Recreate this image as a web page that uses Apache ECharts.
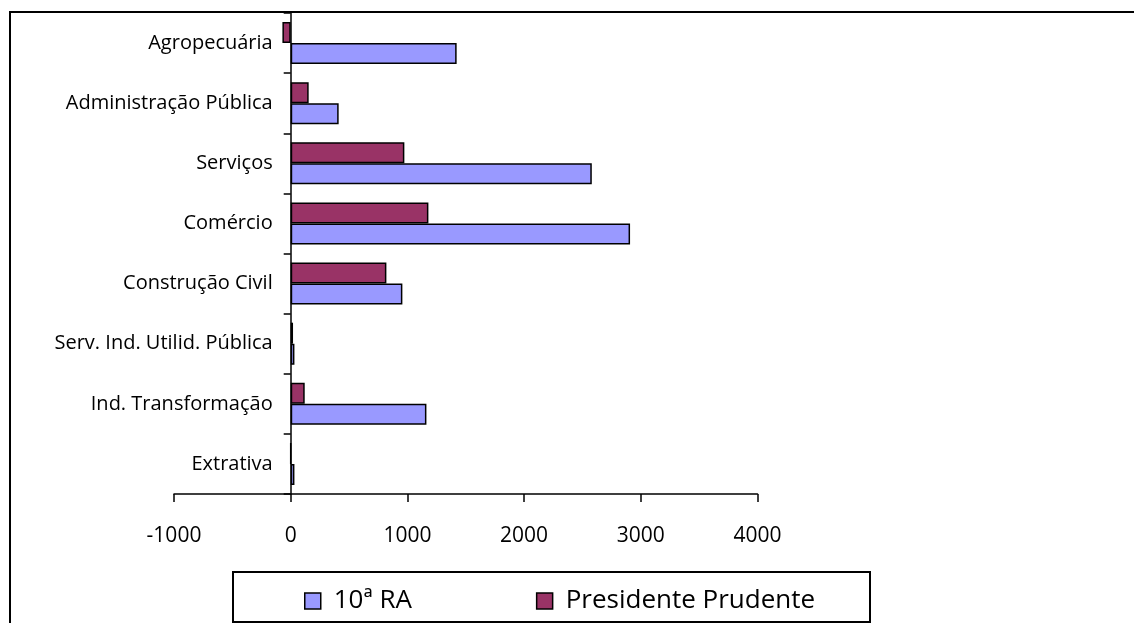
<!DOCTYPE html>
<html>
<head>
<meta charset="utf-8">
<script src="https://cdn.jsdelivr.net/npm/echarts@6/dist/echarts.min.js"></script>
<style>
  html, body { margin: 0; padding: 0; background: #fff; }
  #chart { width: 1134px; height: 623px; }
</style>
</head>
<body>
<div id="chart"></div>
<script>
// Employment balance by sector, listed bottom to top
const categories = [
  'Extrativa',
  'Ind. Transformação',
  'Serv. Ind. Utilid. Pública',
  'Construção Civil',
  'Comércio',
  'Serviços',
  'Administração Pública',
  'Agropecuária'
];
const seriesNames = ['10ª RA', 'Presidente Prudente'];
const valuesRA = [32, 1163, 32, 957, 2908, 2580, 411, 1422];
const valuesPP = [0, 120, 20, 820, 1180, 974, 154, -71];
const tickMin = -1000;
const tickMax = 4000;
const tickStep = 1000;

const FONT = '"Open Sans", "DejaVu Sans", sans-serif';
const W = 1134;
const gridLeft = 174;
const gridRight = 376.5;
// shift the category axis (line, ticks and labels) onto the value 0
const plotWidth = W - gridLeft - gridRight;
const zeroOffset = -plotWidth * (0 - tickMin) / (tickMax - tickMin);

const chart = echarts.init(document.getElementById('chart'), null, { renderer: 'canvas' });

chart.setOption({
  animation: false,
  backgroundColor: '#ffffff',
  textStyle: { fontFamily: FONT, color: '#000' },
  grid: {
    left: gridLeft, right: gridRight, top: 13, bottom: 129,
    containLabel: false,
    outerBoundsMode: 'none'
  },
  graphic: [
    // outer frame (top and left edges)
    { type: 'line', shape: { x1: 9, y1: 12, x2: 1134, y2: 12 },
      style: { stroke: '#000', lineWidth: 2 }, z: 0 },
    { type: 'line', shape: { x1: 10, y1: 12, x2: 10, y2: 623 },
      style: { stroke: '#000', lineWidth: 2 }, z: 0 },
    // legend box
    { type: 'rect', shape: { x: 233, y: 572, width: 637, height: 50 },
      style: { fill: '#fff', stroke: '#000', lineWidth: 2 }, z: 0 }
  ],
  legend: {
    data: seriesNames,
    left: 299,
    top: 583,
    itemWidth: 16,
    itemHeight: 16,
    itemGap: 124,
    icon: 'rect',
    itemStyle: { borderColor: '#000', borderWidth: 1.5 },
    textStyle: { fontFamily: FONT, fontSize: 26, color: '#000', padding: [0, 0, 0, 8] },
    z: 5
  },
  xAxis: {
    type: 'value',
    min: tickMin,
    max: tickMax,
    interval: tickStep,
    axisLine: { show: true, lineStyle: { color: '#000', width: 1.5 } },
    axisTick: { show: true, length: 8, lineStyle: { color: '#000', width: 1.5 } },
    axisLabel: {
      fontFamily: FONT, fontSize: 21, color: '#000', margin: 32,
      formatter: (v) => String(v)
    },
    splitLine: { show: false }
  },
  yAxis: {
    type: 'category',
    data: categories,
    offset: zeroOffset,
    axisLine: { show: true, onZero: false, lineStyle: { color: '#000', width: 1.5 } },
    axisTick: { show: true, length: 7, lineStyle: { color: '#000', width: 1.5 } },
    axisLabel: { fontFamily: FONT, fontSize: 20, color: '#000', margin: 18 },
    splitLine: { show: false }
  },
  // Presidente Prudente listed first so its bar sits above the 10ª RA bar
  series: [
    {
      name: seriesNames[1],
      type: 'bar',
      data: valuesPP,
      barWidth: 21,
      barGap: '0%',
      itemStyle: { color: '#993366', borderColor: '#000', borderWidth: 1.5 }
    },
    {
      name: seriesNames[0],
      type: 'bar',
      data: valuesRA,
      barWidth: 21,
      barGap: '0%',
      itemStyle: { color: '#9999FF', borderColor: '#000', borderWidth: 1.5 }
    }
  ]
});
</script>
</body>
</html>
